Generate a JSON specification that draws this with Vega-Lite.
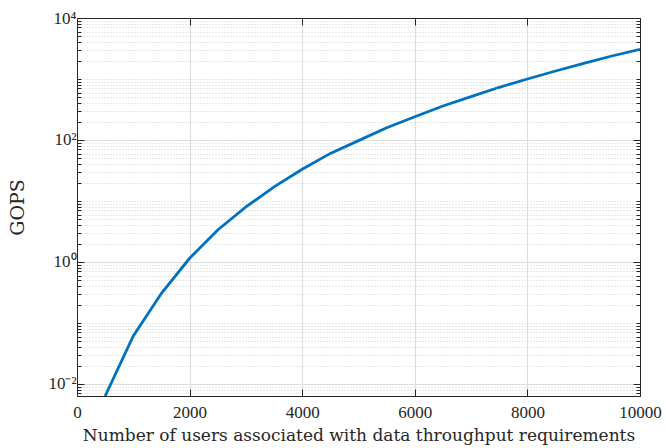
{
  "$schema": "https://vega.github.io/schema/vega-lite/v6.json",
  "width": 563,
  "height": 378,
  "autosize": {"type": "none"},
  "padding": {"left": 77, "top": 18, "right": 26, "bottom": 52},
  "background": "white",
  "config": {
    "view": {"stroke": null},
    "font": "Liberation Serif",
    "axis": {
      "domainColor": "#262626",
      "domainWidth": 1,
      "tickColor": "#262626",
      "tickWidth": 1,
      "labelColor": "#262626",
      "labelFont": "Liberation Serif",
      "labelFontSize": 17,
      "labelFlush": false,
      "titleFont": "DejaVu Serif",
      "titleFontSize": 19,
      "titleFontWeight": "normal",
      "titleColor": "#262626"
    }
  },
  "data": {
    "values": [
      {"users": 500, "gops": 0.00635},
      {"users": 1000, "gops": 0.0612},
      {"users": 1500, "gops": 0.307},
      {"users": 2000, "gops": 1.15},
      {"users": 2500, "gops": 3.35},
      {"users": 3000, "gops": 7.98},
      {"users": 3500, "gops": 17.0},
      {"users": 4000, "gops": 33.1},
      {"users": 4500, "gops": 60.3},
      {"users": 5000, "gops": 97.7},
      {"users": 5500, "gops": 159},
      {"users": 6000, "gops": 241},
      {"users": 6500, "gops": 361},
      {"users": 7000, "gops": 513},
      {"users": 7500, "gops": 731},
      {"users": 8000, "gops": 1000},
      {"users": 8500, "gops": 1352},
      {"users": 9000, "gops": 1807},
      {"users": 9500, "gops": 2382},
      {"users": 10000, "gops": 3062}
    ]
  },
  "layer": [
    {
      "mark": {"type": "line", "color": "#0072BD", "opacity": 0, "clip": true},
      "encoding": {
        "x": {
          "field": "users",
          "type": "quantitative",
          "scale": {"domain": [0, 10000], "nice": false},
          "axis": {
            "orient": "top",
            "values": [0, 2000, 4000, 6000, 8000, 10000],
            "labels": false,
            "grid": false,
            "title": null,
            "tickSize": -7
          }
        },
        "y": {
          "field": "gops",
          "type": "quantitative",
          "scale": {"type": "log", "domain": [0.00635, 10000], "nice": false},
          "axis": {
            "orient": "right",
            "values": [0.007, 0.008, 0.009, 0.01, 0.02, 0.03, 0.04, 0.05, 0.06, 0.07, 0.08, 0.09, 0.1, 0.2, 0.3, 0.4, 0.5, 0.6, 0.7, 0.8, 0.9, 1, 2, 3, 4, 5, 6, 7, 8, 9, 10, 20, 30, 40, 50, 60, 70, 80, 90, 100, 200, 300, 400, 500, 600, 700, 800, 900, 1000, 2000, 3000, 4000, 5000, 6000, 7000, 8000, 9000, 10000],
            "labels": false,
            "grid": false,
            "title": null,
            "tickSize": {"condition": {"test": "datum.value == 0.01 || datum.value == 1 || datum.value == 100 || datum.value == 10000", "value": -7}, "value": -4}
          }
        }
      }
    },
    {
      "mark": {"type": "line", "color": "#0072BD", "strokeWidth": 2.8, "clip": true},
      "encoding": {
        "x": {
          "field": "users",
          "type": "quantitative",
          "scale": {"domain": [0, 10000], "nice": false},
          "axis": {
            "orient": "bottom",
            "values": [0, 2000, 4000, 6000, 8000, 10000],
            "format": "d",
            "grid": true,
            "gridColor": "#dddddd",
            "tickSize": -7,
            "labelPadding": 15,
            "title": "Number of users associated with data throughput requirements",
            "titleFontSize": 17,
            "titlePadding": 7
          }
        },
        "y": {
          "field": "gops",
          "type": "quantitative",
          "scale": {"type": "log", "domain": [0.00635, 10000], "nice": false},
          "axis": {
            "orient": "left",
            "values": [0.007, 0.008, 0.009, 0.01, 0.02, 0.03, 0.04, 0.05, 0.06, 0.07, 0.08, 0.09, 0.1, 0.2, 0.3, 0.4, 0.5, 0.6, 0.7, 0.8, 0.9, 1, 2, 3, 4, 5, 6, 7, 8, 9, 10, 20, 30, 40, 50, 60, 70, 80, 90, 100, 200, 300, 400, 500, 600, 700, 800, 900, 1000, 2000, 3000, 4000, 5000, 6000, 7000, 8000, 9000, 10000],
            "labelExpr": "datum.value == 0.01 ? '10⁻²' : datum.value == 1 ? '10⁰' : datum.value == 100 ? '10²' : datum.value == 10000 ? '10⁴' : ''",
            "grid": true,
            "gridColor": {"condition": {"test": "datum.value == 0.01 || datum.value == 1 || datum.value == 100 || datum.value == 10000", "value": "#dddddd"}, "value": "#d2d2d2"},
            "gridDash": {"condition": {"test": "datum.value == 0.01 || datum.value == 1 || datum.value == 100 || datum.value == 10000", "value": []}, "value": [1, 2]},
            "tickSize": {"condition": {"test": "datum.value == 0.01 || datum.value == 1 || datum.value == 100 || datum.value == 10000", "value": -7}, "value": -4},
            "labelPadding": 8,
            "labelOverlap": false,
            "title": "GOPS",
            "titlePadding": 20
          }
        }
      }
    }
  ],
  "resolve": {"axis": {"x": "independent", "y": "independent"}}
}
